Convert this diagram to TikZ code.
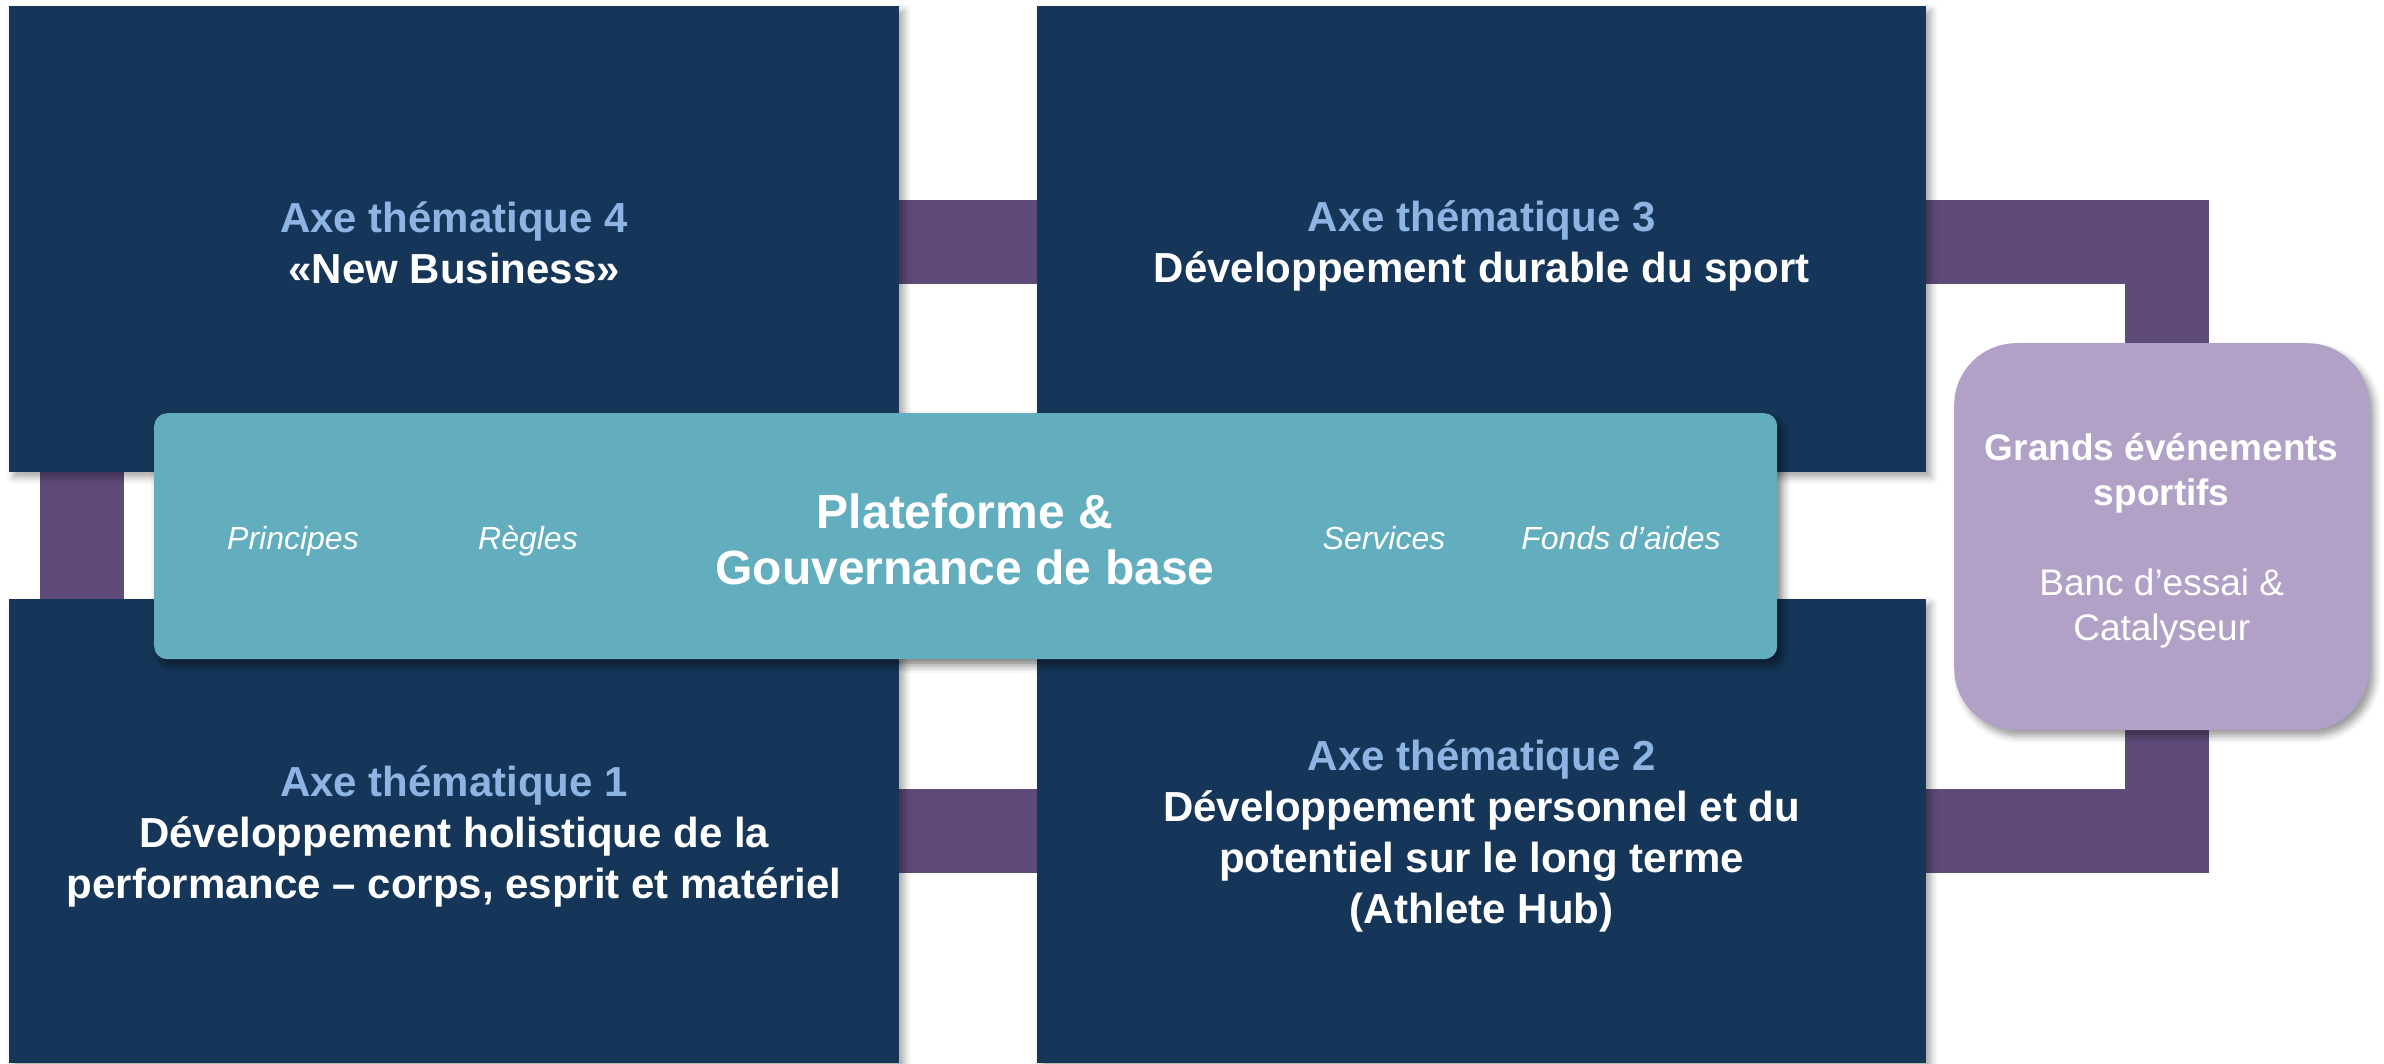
\documentclass[tikz,border=0pt]{standalone}
\usepackage{fontspec}
\setmainfont{Liberation Sans}
\usetikzlibrary{shadows.blur}
\definecolor{navy}{HTML}{163659}
\definecolor{barpurple}{HTML}{5F4B7A}
\definecolor{tealc}{HTML}{62ADBE}
\definecolor{lav}{HTML}{B1A1C7}
\definecolor{axeblue}{HTML}{8EB4E3}
\pgfdeclarelayer{background}
\pgfsetlayers{background,main}
\tikzset{
  axebox/.style={fill=navy, inner sep=0pt, anchor=north west,
    blur shadow={shadow xshift=5pt, shadow yshift=-5pt, shadow blur radius=7pt, shadow opacity=35}},
  axetext/.style={align=center, text=white, inner sep=0pt,
    font=\fontsize{42}{51}\selectfont\bfseries},
  platebox/.style={fill=tealc, rounded corners=13pt, inner sep=0pt, anchor=north west,
    blur shadow={shadow xshift=5pt, shadow yshift=-6pt, shadow blur radius=8pt, shadow opacity=50}},
  platetext/.style={align=center, text=white, inner sep=0pt,
    font=\fontsize{48}{56}\selectfont\bfseries},
  eventbox/.style={fill=lav, rounded corners=62pt, inner sep=0pt, anchor=north west,
    blur shadow={shadow xshift=5pt, shadow yshift=-6pt, shadow blur radius=7pt, shadow opacity=40}},
  eventtext/.style={align=center, text=white, inner sep=0pt,
    font=\fontsize{37}{45}\selectfont},
  bar/.style={draw=barpurple, line width=84pt, line cap=butt, line join=miter},
  tag/.style={text=white, font=\fontsize{32}{38}\selectfont\itshape, inner sep=0pt,
    text height=23pt, text depth=0pt}
}
\begin{document}
\begin{tikzpicture}[x=1pt,y=-1pt]
\useasboundingbox (0,0) rectangle (2384,1063);
% thematic boxes
\node[axebox, minimum width=890pt, minimum height=466pt] (tl) at (9,6) {};
\node[axebox, minimum width=889pt, minimum height=466pt] (tr) at (1037,6) {};
\node[axebox, minimum width=890pt, minimum height=464pt] (bl) at (9,599) {};
\node[axebox, minimum width=889pt, minimum height=464pt] (br) at (1037,599) {};
\node[axetext] (tltxt) at ([yshift=-4pt]tl.center)
  {\textcolor{axeblue}{Axe thématique 4}\\«New Business»};
\node[axetext] (trtxt) at ([yshift=-7pt]tr.center)
  {\textcolor{axeblue}{Axe thématique 3}\\Développement durable du sport};
\node[axetext] (bltxt) at ([yshift=-5pt]bl.center)
  {\textcolor{axeblue}{Axe thématique 1}\\Développement holistique de la\\performance – corps, esprit et matériel};
\node[axetext] (brtxt) at ([yshift=-5pt]br.center)
  {\textcolor{axeblue}{Axe thématique 2}\\Développement personnel et du\\potentiel sur le long terme\\(Athlete Hub)};
% platform
\node[platebox, minimum width=1623pt, minimum height=246pt] (pf) at (154,413) {};
\node[platetext] (pftxt) at (965,539) {Plateforme \&\\Gouvernance de base};
\node[tag] (p1) at (293,538) {Principes};
\node[tag] (p2) at (528,538) {Règles};
\node[tag] (p3) at (1384,538) {Services};
\node[tag] (p4) at (1621,538) {Fonds d’aides};
% major events
\node[eventbox, minimum width=415pt, minimum height=387pt] (ge) at (1954,343) {};
\node[eventtext] (getxt) at ([yshift=-4pt]ge.center)
  {\textbf{Grands événements}\\\textbf{sportifs}\\[45pt]Banc d’essai \&\\Catalyseur};
% connectors (purple bars) under everything
\begin{pgfonlayer}{background}
\draw[bar] (tl.center |- 0,242) -- (tr.center |- 0,242);
\draw[bar] (bl.center |- 0,831) -- (br.center |- 0,831);
\draw[bar] (tl.center -| 81.5,0) -- (bl.center -| 81.5,0);
\draw[bar] (tr.center |- 0,242) -| (ge.center -| 2167,0);
\draw[bar] (br.center |- 0,831) -| (ge.center -| 2167,0);
\end{pgfonlayer}
\end{tikzpicture}
\end{document}
